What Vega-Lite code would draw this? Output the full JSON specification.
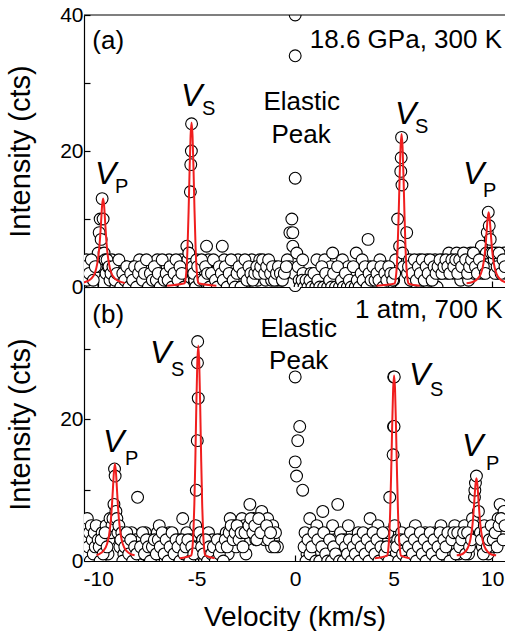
{
"$schema": "https://vega.github.io/schema/vega-lite/v6.json",
"background": "white",
"padding": {"left": 6, "top": 4, "right": 0, "bottom": 0},
"spacing": 0,
"bounds": "flush",
"config": {"view": {"stroke": null}, "font": "Liberation Sans",
  "axis": {"grid": false, "domainColor": "black", "domainWidth": 1.2, "tickColor": "black", "tickWidth": 1.2, "labelColor": "black", "titleColor": "black", "labelFont": "Liberation Sans", "titleFont": "Liberation Sans", "titleFontWeight": "normal"}},
"datasets": {
"a": [
{"x":-10.7,"y":2},{"x":-10.6,"y":4},{"x":-10.5,"y":1},{"x":-10.4,"y":3},{"x":-10.3,"y":0},{"x":-10.2,"y":2},{"x":-10.1,"y":4},{"x":-10.05,"y":3},{"x":-10.0,"y":5},{"x":-9.95,"y":8},{"x":-9.9,"y":10},{"x":-9.85,"y":7},{"x":-9.8,"y":13},{"x":-9.75,"y":10},{"x":-9.7,"y":5},{"x":-9.65,"y":4},{"x":-9.6,"y":2},{"x":-9.5,"y":3},{"x":-9.4,"y":1},{"x":-9.3,"y":4},{"x":-9.2,"y":2},{"x":-9.1,"y":0},{"x":-9.0,"y":3},{"x":-8.9,"y":1},{"x":-8.8,"y":2},{"x":-8.7,"y":0},{"x":-8.6,"y":3},{"x":-8.5,"y":1},{"x":-8.4,"y":2},{"x":-8.3,"y":0},{"x":-8.2,"y":3},{"x":-8.1,"y":1},{"x":-8.0,"y":2},{"x":-7.9,"y":4},{"x":-7.8,"y":1},{"x":-7.7,"y":0},{"x":-7.6,"y":3},{"x":-7.5,"y":2},{"x":-7.4,"y":1},{"x":-7.3,"y":3},{"x":-7.2,"y":0},{"x":-7.1,"y":2},{"x":-7.0,"y":4},{"x":-6.9,"y":1},{"x":-6.8,"y":3},{"x":-6.7,"y":2},{"x":-6.6,"y":0},{"x":-6.5,"y":3},{"x":-6.4,"y":4},{"x":-6.3,"y":1},{"x":-6.2,"y":2},{"x":-6.1,"y":3},{"x":-6.0,"y":0},{"x":-5.9,"y":2},{"x":-5.8,"y":4},{"x":-5.7,"y":1},{"x":-5.6,"y":3},{"x":-5.5,"y":6},{"x":-5.45,"y":4},{"x":-5.4,"y":5},{"x":-5.32,"y":14},{"x":-5.3,"y":18},{"x":-5.27,"y":20},{"x":-5.26,"y":24},{"x":-5.2,"y":3},{"x":-5.1,"y":1},{"x":-5.0,"y":4},{"x":-4.9,"y":2},{"x":-4.8,"y":0},{"x":-4.7,"y":3},{"x":-4.6,"y":2},{"x":-4.5,"y":6},{"x":-4.4,"y":4},{"x":-4.3,"y":1},{"x":-4.2,"y":3},{"x":-4.1,"y":0},{"x":-4.0,"y":2},{"x":-3.9,"y":3},{"x":-3.8,"y":1},{"x":-3.7,"y":6},{"x":-3.6,"y":4},{"x":-3.5,"y":2},{"x":-3.4,"y":3},{"x":-3.3,"y":0},{"x":-3.2,"y":1},{"x":-3.1,"y":3},{"x":-3.0,"y":2},{"x":-2.9,"y":4},{"x":-2.8,"y":1},{"x":-2.7,"y":3},{"x":-2.6,"y":0},{"x":-2.5,"y":2},{"x":-2.4,"y":3},{"x":-2.3,"y":1},{"x":-2.2,"y":4},{"x":-2.1,"y":2},{"x":-2.0,"y":3},{"x":-1.9,"y":1},{"x":-1.8,"y":4},{"x":-1.7,"y":2},{"x":-1.6,"y":3},{"x":-1.5,"y":1},{"x":-1.4,"y":2},{"x":-1.3,"y":3},{"x":-1.2,"y":1},{"x":-1.1,"y":2},{"x":-1.0,"y":3},{"x":-0.9,"y":1},{"x":-0.8,"y":2},{"x":-0.7,"y":1},{"x":-0.6,"y":3},{"x":-0.5,"y":2},{"x":-0.4,"y":4},{"x":-0.3,"y":3},{"x":-0.27,"y":8},{"x":-0.17,"y":10},{"x":-0.12,"y":8},{"x":-0.12,"y":6},{"x":-0.05,"y":2},{"x":0.0,"y":40},{"x":0.0,"y":34},{"x":0.0,"y":16},{"x":0.08,"y":5},{"x":0.15,"y":3},{"x":0.2,"y":1},{"x":0.3,"y":0},{"x":0.38,"y":4},{"x":0.4,"y":2},{"x":0.5,"y":0},{"x":0.6,"y":1},{"x":0.7,"y":0},{"x":0.8,"y":2},{"x":0.9,"y":0},{"x":1.0,"y":1},{"x":1.1,"y":4},{"x":1.2,"y":0},{"x":1.3,"y":2},{"x":1.4,"y":0},{"x":1.5,"y":4},{"x":1.6,"y":1},{"x":1.7,"y":0},{"x":1.8,"y":3},{"x":1.9,"y":5},{"x":2.0,"y":0},{"x":2.1,"y":1},{"x":2.2,"y":0},{"x":2.3,"y":2},{"x":2.4,"y":4},{"x":2.5,"y":0},{"x":2.6,"y":1},{"x":2.7,"y":3},{"x":2.8,"y":0},{"x":2.9,"y":2},{"x":3.0,"y":0},{"x":3.1,"y":5},{"x":3.2,"y":1},{"x":3.3,"y":0},{"x":3.4,"y":4},{"x":3.5,"y":2},{"x":3.6,"y":1},{"x":3.7,"y":7},{"x":3.8,"y":3},{"x":3.9,"y":1},{"x":4.0,"y":2},{"x":4.1,"y":3},{"x":4.2,"y":0},{"x":4.3,"y":4},{"x":4.4,"y":2},{"x":4.5,"y":1},{"x":4.6,"y":3},{"x":4.7,"y":2},{"x":4.8,"y":0},{"x":4.9,"y":3},{"x":5.0,"y":1},{"x":5.1,"y":4},{"x":5.2,"y":10},{"x":5.3,"y":6},{"x":5.36,"y":17},{"x":5.38,"y":19},{"x":5.4,"y":22},{"x":5.42,"y":15},{"x":5.45,"y":5},{"x":5.5,"y":3},{"x":5.66,"y":8},{"x":5.7,"y":2},{"x":5.8,"y":4},{"x":5.9,"y":1},{"x":6.0,"y":3},{"x":6.1,"y":2},{"x":6.2,"y":0},{"x":6.3,"y":4},{"x":6.4,"y":1},{"x":6.5,"y":3},{"x":6.6,"y":2},{"x":6.7,"y":4},{"x":6.8,"y":1},{"x":6.9,"y":3},{"x":7.0,"y":2},{"x":7.1,"y":4},{"x":7.2,"y":0},{"x":7.3,"y":3},{"x":7.4,"y":2},{"x":7.5,"y":4},{"x":7.6,"y":3},{"x":7.7,"y":2},{"x":7.8,"y":5},{"x":7.9,"y":3},{"x":8.0,"y":4},{"x":8.1,"y":2},{"x":8.2,"y":5},{"x":8.3,"y":3},{"x":8.4,"y":1},{"x":8.5,"y":4},{"x":8.6,"y":2},{"x":8.7,"y":3},{"x":8.8,"y":1},{"x":8.9,"y":5},{"x":9.0,"y":3},{"x":9.1,"y":2},{"x":9.2,"y":4},{"x":9.3,"y":3},{"x":9.4,"y":5},{"x":9.45,"y":6},{"x":9.5,"y":2},{"x":9.6,"y":4},{"x":9.7,"y":5},{"x":9.75,"y":8},{"x":9.8,"y":11},{"x":9.85,"y":9},{"x":9.9,"y":7},{"x":9.95,"y":5},{"x":10.0,"y":3},{"x":10.1,"y":4},{"x":10.2,"y":5},{"x":10.3,"y":2},{"x":10.4,"y":4},{"x":10.5,"y":3},{"x":10.6,"y":5},{"x":10.7,"y":2},
{"x":-10.65,"y":3},{"x":-10.55,"y":1},{"x":-10.45,"y":2},{"x":-10.35,"y":4},{"x":-10.25,"y":1},{"x":-10.15,"y":3},{"x":-9.55,"y":4},{"x":-9.45,"y":3},{"x":-9.35,"y":2},{"x":-9.25,"y":3},{"x":-9.15,"y":1},{"x":-9.05,"y":2},{"x":-8.95,"y":4},{"x":-8.85,"y":0},{"x":-8.75,"y":2},{"x":-8.65,"y":1},{"x":-8.55,"y":3},{"x":-8.45,"y":0},{"x":-8.35,"y":2},{"x":-8.25,"y":1},{"x":-8.15,"y":3},{"x":-8.05,"y":0},{"x":-7.95,"y":2},{"x":-7.85,"y":3},{"x":-7.75,"y":1},{"x":-7.65,"y":2},{"x":-7.55,"y":4},{"x":-7.45,"y":0},{"x":-7.35,"y":2},{"x":-7.25,"y":1},{"x":-7.15,"y":3},{"x":-7.05,"y":1},{"x":-6.95,"y":2},{"x":-6.85,"y":0},{"x":-6.75,"y":4},{"x":-6.65,"y":1},{"x":-6.55,"y":2},{"x":-6.45,"y":1},{"x":-6.35,"y":3},{"x":-6.25,"y":0},{"x":-6.15,"y":2},{"x":-6.05,"y":4},{"x":-5.95,"y":1},{"x":-5.85,"y":3},{"x":-5.75,"y":2},{"x":-5.65,"y":0},{"x":-5.15,"y":2},{"x":-5.05,"y":0},{"x":-4.95,"y":3},{"x":-4.85,"y":1},{"x":-4.75,"y":4},{"x":-4.65,"y":1},{"x":-4.55,"y":3},{"x":-4.45,"y":2},{"x":-4.35,"y":0},{"x":-4.25,"y":2},{"x":-4.15,"y":4},{"x":-4.05,"y":1},{"x":-3.95,"y":0},{"x":-3.85,"y":3},{"x":-3.75,"y":2},{"x":-3.65,"y":1},{"x":-3.55,"y":3},{"x":-3.45,"y":0},{"x":-3.35,"y":2},{"x":-3.25,"y":4},{"x":-3.15,"y":1},{"x":-3.05,"y":0},{"x":-2.95,"y":2},{"x":-2.85,"y":3},{"x":-2.75,"y":0},{"x":-2.65,"y":2},{"x":-2.55,"y":4},{"x":-2.45,"y":1},{"x":-2.35,"y":3},{"x":-2.25,"y":2},{"x":-2.15,"y":1},{"x":-2.05,"y":2},{"x":-1.95,"y":3},{"x":-1.85,"y":2},{"x":-1.75,"y":3},{"x":-1.65,"y":4},{"x":-1.55,"y":2},{"x":-1.45,"y":3},{"x":-1.35,"y":4},{"x":-1.25,"y":2},{"x":-1.15,"y":3},{"x":-1.05,"y":1},{"x":-0.95,"y":2},{"x":-0.85,"y":3},{"x":-0.75,"y":2},{"x":-0.65,"y":1},{"x":-0.55,"y":2},{"x":-0.45,"y":3},{"x":0.25,"y":0},{"x":0.35,"y":1},{"x":0.45,"y":0},{"x":0.55,"y":1},{"x":0.65,"y":0},{"x":0.75,"y":1},{"x":0.85,"y":0},{"x":0.95,"y":2},{"x":1.05,"y":0},{"x":1.15,"y":1},{"x":1.25,"y":0},{"x":1.35,"y":3},{"x":1.45,"y":0},{"x":1.55,"y":2},{"x":1.65,"y":0},{"x":1.75,"y":1},{"x":1.85,"y":0},{"x":1.95,"y":2},{"x":2.05,"y":0},{"x":2.15,"y":3},{"x":2.25,"y":0},{"x":2.35,"y":1},{"x":2.45,"y":0},{"x":2.55,"y":2},{"x":2.65,"y":0},{"x":2.75,"y":1},{"x":2.85,"y":0},{"x":2.95,"y":3},{"x":3.05,"y":0},{"x":3.15,"y":1},{"x":3.25,"y":0},{"x":3.35,"y":2},{"x":3.45,"y":1},{"x":3.55,"y":3},{"x":3.65,"y":0},{"x":3.75,"y":2},{"x":3.85,"y":1},{"x":3.95,"y":3},{"x":4.05,"y":1},{"x":4.15,"y":2},{"x":4.25,"y":1},{"x":4.35,"y":3},{"x":4.45,"y":0},{"x":4.55,"y":2},{"x":4.65,"y":1},{"x":4.75,"y":3},{"x":4.85,"y":2},{"x":4.95,"y":1},{"x":5.05,"y":2},{"x":5.75,"y":3},{"x":5.85,"y":1},{"x":5.95,"y":2},{"x":6.05,"y":4},{"x":6.15,"y":1},{"x":6.25,"y":3},{"x":6.35,"y":2},{"x":6.45,"y":4},{"x":6.55,"y":1},{"x":6.65,"y":3},{"x":6.75,"y":2},{"x":6.85,"y":4},{"x":6.95,"y":1},{"x":7.05,"y":3},{"x":7.15,"y":2},{"x":7.25,"y":3},{"x":7.35,"y":4},{"x":7.45,"y":2},{"x":7.55,"y":3},{"x":7.65,"y":4},{"x":7.75,"y":3},{"x":7.85,"y":2},{"x":7.95,"y":4},{"x":8.05,"y":3},{"x":8.15,"y":4},{"x":8.25,"y":2},{"x":8.35,"y":4},{"x":8.45,"y":3},{"x":8.55,"y":5},{"x":8.65,"y":4},{"x":8.75,"y":2},{"x":8.85,"y":3},{"x":8.95,"y":4},{"x":9.05,"y":5},{"x":9.15,"y":3},{"x":9.25,"y":2},{"x":9.35,"y":4},{"x":9.55,"y":3},{"x":9.65,"y":2},{"x":10.05,"y":5},{"x":10.15,"y":2},{"x":10.25,"y":3},{"x":10.35,"y":5},{"x":10.45,"y":2},{"x":10.55,"y":4},{"x":10.65,"y":3}
],
"b": [
{"x":-10.7,"y":3},{"x":-10.65,"y":5},{"x":-10.6,"y":1},{"x":-10.55,"y":6},{"x":-10.5,"y":2},{"x":-10.45,"y":4},{"x":-10.4,"y":0},{"x":-10.35,"y":5},{"x":-10.3,"y":3},{"x":-10.25,"y":1},{"x":-10.2,"y":4},{"x":-10.15,"y":2},{"x":-10.1,"y":5},{"x":-10.0,"y":3},{"x":-9.9,"y":0},{"x":-9.8,"y":4},{"x":-9.7,"y":2},{"x":-9.6,"y":5},{"x":-9.5,"y":1},{"x":-9.45,"y":3},{"x":-9.4,"y":6},{"x":-9.35,"y":4},{"x":-9.3,"y":5},{"x":-9.25,"y":6},{"x":-9.2,"y":8},{"x":-9.17,"y":13},{"x":-9.14,"y":12},{"x":-9.1,"y":7},{"x":-9.05,"y":6},{"x":-9.0,"y":4},{"x":-8.95,"y":5},{"x":-8.9,"y":2},{"x":-8.8,"y":4},{"x":-8.7,"y":1},{"x":-8.6,"y":3},{"x":-8.5,"y":0},{"x":-8.4,"y":2},{"x":-8.3,"y":4},{"x":-8.2,"y":1},{"x":-8.1,"y":3},{"x":-8.0,"y":9},{"x":-7.95,"y":2},{"x":-7.9,"y":0},{"x":-7.8,"y":3},{"x":-7.7,"y":1},{"x":-7.6,"y":4},{"x":-7.5,"y":2},{"x":-7.4,"y":0},{"x":-7.3,"y":3},{"x":-7.2,"y":1},{"x":-7.1,"y":2},{"x":-7.0,"y":4},{"x":-6.9,"y":5},{"x":-6.8,"y":1},{"x":-6.7,"y":3},{"x":-6.6,"y":0},{"x":-6.5,"y":2},{"x":-6.4,"y":4},{"x":-6.3,"y":1},{"x":-6.2,"y":3},{"x":-6.1,"y":2},{"x":-6.0,"y":0},{"x":-5.9,"y":3},{"x":-5.8,"y":1},{"x":-5.71,"y":6},{"x":-5.6,"y":2},{"x":-5.5,"y":4},{"x":-5.4,"y":1},{"x":-5.3,"y":3},{"x":-5.2,"y":0},{"x":-5.1,"y":2},{"x":-5.05,"y":5},{"x":-5.02,"y":10},{"x":-4.97,"y":17},{"x":-4.95,"y":31},{"x":-4.96,"y":28},{"x":-4.92,"y":23},{"x":-4.85,"y":4},{"x":-4.8,"y":1},{"x":-4.7,"y":3},{"x":-4.6,"y":0},{"x":-4.5,"y":2},{"x":-4.4,"y":4},{"x":-4.3,"y":1},{"x":-4.2,"y":3},{"x":-4.1,"y":0},{"x":-4.0,"y":2},{"x":-3.9,"y":1},{"x":-3.8,"y":3},{"x":-3.7,"y":0},{"x":-3.6,"y":2},{"x":-3.5,"y":4},{"x":-3.4,"y":1},{"x":-3.3,"y":6},{"x":-3.2,"y":3},{"x":-3.1,"y":5},{"x":-3.0,"y":2},{"x":-2.9,"y":4},{"x":-2.8,"y":4},{"x":-2.7,"y":6},{"x":-2.6,"y":5},{"x":-2.5,"y":1},{"x":-2.45,"y":3},{"x":-2.3,"y":8},{"x":-2.2,"y":4},{"x":-2.1,"y":6},{"x":-2.0,"y":3},{"x":-1.9,"y":5},{"x":-1.8,"y":4},{"x":-1.7,"y":7},{"x":-1.65,"y":5},{"x":-1.55,"y":3},{"x":-1.4,"y":6},{"x":-1.3,"y":4},{"x":-1.2,"y":2},{"x":-1.14,"y":5},{"x":-1.1,"y":3},{"x":-1.0,"y":4},{"x":-0.9,"y":2},{"x":0.0,"y":38.9},{"x":0.0,"y":26},{"x":0.23,"y":19},{"x":0.13,"y":17},{"x":0.0,"y":14},{"x":0.07,"y":12},{"x":0.38,"y":10},{"x":0.5,"y":4},{"x":0.6,"y":1},{"x":0.74,"y":6},{"x":0.8,"y":3},{"x":0.9,"y":0},{"x":1.0,"y":2},{"x":1.1,"y":5},{"x":1.2,"y":1},{"x":1.3,"y":3},{"x":1.4,"y":7},{"x":1.5,"y":0},{"x":1.6,"y":2},{"x":1.7,"y":4},{"x":1.8,"y":1},{"x":1.9,"y":5},{"x":2.0,"y":3},{"x":2.1,"y":0},{"x":2.16,"y":8},{"x":2.2,"y":2},{"x":2.3,"y":4},{"x":2.4,"y":1},{"x":2.5,"y":3},{"x":2.6,"y":0},{"x":2.7,"y":5},{"x":2.8,"y":2},{"x":2.9,"y":1},{"x":3.0,"y":3},{"x":3.1,"y":0},{"x":3.2,"y":4},{"x":3.3,"y":2},{"x":3.4,"y":1},{"x":3.5,"y":3},{"x":3.6,"y":0},{"x":3.7,"y":2},{"x":3.8,"y":6},{"x":3.9,"y":1},{"x":4.0,"y":3},{"x":4.1,"y":0},{"x":4.2,"y":5},{"x":4.3,"y":2},{"x":4.4,"y":1},{"x":4.5,"y":3},{"x":4.6,"y":0},{"x":4.7,"y":4},{"x":4.8,"y":9},{"x":4.9,"y":2},{"x":4.97,"y":15},{"x":5.0,"y":26},{"x":5.03,"y":26},{"x":4.99,"y":19},{"x":5.02,"y":19},{"x":5.05,"y":5},{"x":5.1,"y":1},{"x":5.2,"y":3},{"x":5.3,"y":0},{"x":5.4,"y":4},{"x":5.5,"y":2},{"x":5.6,"y":1},{"x":5.7,"y":3},{"x":5.8,"y":0},{"x":5.9,"y":4},{"x":6.0,"y":2},{"x":6.1,"y":5},{"x":6.2,"y":1},{"x":6.3,"y":3},{"x":6.4,"y":0},{"x":6.5,"y":2},{"x":6.6,"y":4},{"x":6.7,"y":1},{"x":6.8,"y":3},{"x":6.9,"y":0},{"x":7.0,"y":2},{"x":7.1,"y":4},{"x":7.2,"y":1},{"x":7.3,"y":3},{"x":7.4,"y":5},{"x":7.5,"y":2},{"x":7.6,"y":0},{"x":7.7,"y":3},{"x":7.8,"y":1},{"x":7.9,"y":4},{"x":8.0,"y":2},{"x":8.1,"y":5},{"x":8.2,"y":3},{"x":8.3,"y":1},{"x":8.4,"y":4},{"x":8.5,"y":2},{"x":8.6,"y":5},{"x":8.7,"y":3},{"x":8.8,"y":1},{"x":8.9,"y":4},{"x":9.0,"y":6},{"x":9.05,"y":5},{"x":9.1,"y":9},{"x":9.12,"y":10},{"x":9.15,"y":11},{"x":9.2,"y":12},{"x":9.3,"y":7},{"x":9.4,"y":4},{"x":9.5,"y":2},{"x":9.6,"y":5},{"x":9.7,"y":3},{"x":9.8,"y":1},{"x":9.9,"y":4},{"x":10.0,"y":2},{"x":10.1,"y":5},{"x":10.2,"y":3},{"x":10.3,"y":6},{"x":10.4,"y":8},{"x":10.5,"y":4},{"x":10.6,"y":7},{"x":10.7,"y":5},
{"x":-9.95,"y":2},{"x":-9.85,"y":3},{"x":-9.75,"y":1},{"x":-9.65,"y":4},{"x":-9.55,"y":2},{"x":-8.85,"y":3},{"x":-8.75,"y":0},{"x":-8.65,"y":2},{"x":-8.55,"y":4},{"x":-8.45,"y":1},{"x":-8.35,"y":3},{"x":-8.25,"y":0},{"x":-8.15,"y":2},{"x":-8.05,"y":1},{"x":-7.85,"y":2},{"x":-7.75,"y":4},{"x":-7.65,"y":1},{"x":-7.55,"y":3},{"x":-7.45,"y":2},{"x":-7.35,"y":0},{"x":-7.25,"y":2},{"x":-7.15,"y":3},{"x":-7.05,"y":1},{"x":-6.95,"y":3},{"x":-6.85,"y":2},{"x":-6.75,"y":4},{"x":-6.65,"y":1},{"x":-6.55,"y":3},{"x":-6.45,"y":0},{"x":-6.35,"y":2},{"x":-6.25,"y":4},{"x":-6.15,"y":1},{"x":-6.05,"y":3},{"x":-5.95,"y":2},{"x":-5.85,"y":0},{"x":-5.75,"y":3},{"x":-5.65,"y":1},{"x":-5.55,"y":2},{"x":-5.45,"y":3},{"x":-5.35,"y":0},{"x":-5.25,"y":2},{"x":-5.15,"y":1},{"x":-4.75,"y":2},{"x":-4.65,"y":1},{"x":-4.55,"y":3},{"x":-4.45,"y":0},{"x":-4.35,"y":2},{"x":-4.25,"y":1},{"x":-4.15,"y":2},{"x":-4.05,"y":0},{"x":-3.95,"y":3},{"x":-3.85,"y":1},{"x":-3.75,"y":2},{"x":-3.65,"y":0},{"x":-3.55,"y":3},{"x":-3.45,"y":2},{"x":-3.35,"y":4},{"x":-3.25,"y":5},{"x":-3.15,"y":3},{"x":-3.05,"y":4},{"x":-2.95,"y":5},{"x":-2.85,"y":3},{"x":-2.75,"y":4},{"x":-2.65,"y":2},{"x":-2.55,"y":4},{"x":-2.35,"y":5},{"x":-2.25,"y":6},{"x":-2.15,"y":4},{"x":-2.05,"y":5},{"x":-1.95,"y":3},{"x":-1.85,"y":6},{"x":-1.75,"y":4},{"x":-1.45,"y":5},{"x":-1.35,"y":3},{"x":-1.25,"y":4},{"x":-1.05,"y":2},{"x":0.45,"y":2},{"x":0.55,"y":0},{"x":0.65,"y":3},{"x":0.75,"y":1},{"x":0.85,"y":2},{"x":0.95,"y":4},{"x":1.05,"y":0},{"x":1.15,"y":3},{"x":1.25,"y":0},{"x":1.35,"y":2},{"x":1.45,"y":4},{"x":1.55,"y":1},{"x":1.65,"y":0},{"x":1.75,"y":3},{"x":1.85,"y":0},{"x":1.95,"y":2},{"x":2.05,"y":1},{"x":2.25,"y":0},{"x":2.35,"y":3},{"x":2.45,"y":0},{"x":2.55,"y":2},{"x":2.65,"y":1},{"x":2.75,"y":3},{"x":2.85,"y":0},{"x":2.95,"y":2},{"x":3.05,"y":1},{"x":3.15,"y":3},{"x":3.25,"y":0},{"x":3.35,"y":2},{"x":3.45,"y":4},{"x":3.55,"y":1},{"x":3.65,"y":3},{"x":3.75,"y":0},{"x":3.85,"y":2},{"x":3.95,"y":4},{"x":4.05,"y":1},{"x":4.15,"y":3},{"x":4.25,"y":0},{"x":4.35,"y":2},{"x":4.45,"y":4},{"x":4.55,"y":1},{"x":4.65,"y":2},{"x":4.75,"y":0},{"x":5.15,"y":2},{"x":5.25,"y":0},{"x":5.35,"y":3},{"x":5.45,"y":1},{"x":5.55,"y":3},{"x":5.65,"y":0},{"x":5.75,"y":2},{"x":5.85,"y":4},{"x":5.95,"y":1},{"x":6.05,"y":3},{"x":6.15,"y":0},{"x":6.25,"y":2},{"x":6.35,"y":4},{"x":6.45,"y":1},{"x":6.55,"y":3},{"x":6.65,"y":0},{"x":6.75,"y":2},{"x":6.85,"y":4},{"x":6.95,"y":1},{"x":7.05,"y":3},{"x":7.15,"y":0},{"x":7.25,"y":2},{"x":7.35,"y":4},{"x":7.45,"y":1},{"x":7.55,"y":3},{"x":7.65,"y":2},{"x":7.75,"y":4},{"x":7.85,"y":0},{"x":7.95,"y":3},{"x":8.05,"y":4},{"x":8.15,"y":1},{"x":8.25,"y":4},{"x":8.35,"y":2},{"x":8.45,"y":3},{"x":8.55,"y":4},{"x":8.65,"y":1},{"x":8.75,"y":4},{"x":8.85,"y":2},{"x":8.95,"y":3},{"x":9.45,"y":3},{"x":9.55,"y":1},{"x":9.65,"y":4},{"x":9.75,"y":2},{"x":9.85,"y":3},{"x":9.95,"y":5},{"x":10.05,"y":3},{"x":10.15,"y":4},{"x":10.25,"y":2},{"x":10.35,"y":5},{"x":10.45,"y":6},{"x":10.55,"y":3},{"x":10.65,"y":5}
],
"fa": [
{"pk":"p1","x":-10.85,"y":0.6},{"pk":"p1","x":-10.55,"y":0.85},{"pk":"p1","x":-10.35,"y":1.24},{"pk":"p1","x":-10.15,"y":2.2},{"pk":"p1","x":-10.05,"y":3.4},{"pk":"p1","x":-9.95,"y":5.6},{"pk":"p1","x":-9.9,"y":7.4},{"pk":"p1","x":-9.85,"y":9.7},{"pk":"p1","x":-9.8,"y":12.0},{"pk":"p1","x":-9.75,"y":13.0},{"pk":"p1","x":-9.7,"y":12.0},{"pk":"p1","x":-9.65,"y":9.7},{"pk":"p1","x":-9.6,"y":7.4},{"pk":"p1","x":-9.55,"y":5.6},{"pk":"p1","x":-9.45,"y":3.4},{"pk":"p1","x":-9.35,"y":2.2},{"pk":"p1","x":-9.15,"y":1.24},{"pk":"p1","x":-8.95,"y":0.85},{"pk":"p1","x":-8.65,"y":0.6},
{"pk":"s1","x":-6.5,"y":0.2},{"pk":"s1","x":-5.61,"y":0.55},{"pk":"s1","x":-5.56,"y":1.25},{"pk":"s1","x":-5.51,"y":2.9},{"pk":"s1","x":-5.46,"y":6.2},{"pk":"s1","x":-5.41,"y":11.2},{"pk":"s1","x":-5.36,"y":17.2},{"pk":"s1","x":-5.31,"y":22.2},{"pk":"s1","x":-5.26,"y":24.2},{"pk":"s1","x":-5.21,"y":22.2},{"pk":"s1","x":-5.16,"y":17.2},{"pk":"s1","x":-5.11,"y":11.2},{"pk":"s1","x":-5.06,"y":6.2},{"pk":"s1","x":-5.01,"y":2.9},{"pk":"s1","x":-4.96,"y":1.25},{"pk":"s1","x":-4.91,"y":0.55},{"pk":"s1","x":-4.0,"y":0.2},
{"pk":"s2","x":4.13,"y":0.2},{"pk":"s2","x":5.05,"y":0.5},{"pk":"s2","x":5.1,"y":1.2},{"pk":"s2","x":5.15,"y":2.7},{"pk":"s2","x":5.2,"y":5.8},{"pk":"s2","x":5.25,"y":10.4},{"pk":"s2","x":5.3,"y":16.0},{"pk":"s2","x":5.35,"y":20.6},{"pk":"s2","x":5.4,"y":22.5},{"pk":"s2","x":5.45,"y":20.6},{"pk":"s2","x":5.5,"y":16.0},{"pk":"s2","x":5.55,"y":10.4},{"pk":"s2","x":5.6,"y":5.8},{"pk":"s2","x":5.65,"y":2.7},{"pk":"s2","x":5.7,"y":1.2},{"pk":"s2","x":5.75,"y":0.5},{"pk":"s2","x":6.32,"y":0.2},
{"pk":"p2","x":8.7,"y":0.55},{"pk":"p2","x":9.02,"y":0.76},{"pk":"p2","x":9.22,"y":1.1},{"pk":"p2","x":9.42,"y":1.94},{"pk":"p2","x":9.52,"y":2.9},{"pk":"p2","x":9.62,"y":4.8},{"pk":"p2","x":9.67,"y":6.3},{"pk":"p2","x":9.72,"y":8.25},{"pk":"p2","x":9.77,"y":10.1},{"pk":"p2","x":9.82,"y":11.0},{"pk":"p2","x":9.87,"y":10.1},{"pk":"p2","x":9.92,"y":8.25},{"pk":"p2","x":9.97,"y":6.3},{"pk":"p2","x":10.02,"y":4.8},{"pk":"p2","x":10.12,"y":2.9},{"pk":"p2","x":10.22,"y":1.94},{"pk":"p2","x":10.42,"y":1.1},{"pk":"p2","x":10.62,"y":0.76},{"pk":"p2","x":10.92,"y":0.55}
],
"fb": [
{"pk":"p1","x":-10.08,"y":0.8},{"pk":"p1","x":-9.95,"y":0.97},{"pk":"p1","x":-9.75,"y":1.38},{"pk":"p1","x":-9.55,"y":2.4},{"pk":"p1","x":-9.45,"y":3.6},{"pk":"p1","x":-9.35,"y":6.0},{"pk":"p1","x":-9.3,"y":7.9},{"pk":"p1","x":-9.25,"y":10.3},{"pk":"p1","x":-9.2,"y":12.6},{"pk":"p1","x":-9.15,"y":13.7},{"pk":"p1","x":-9.1,"y":12.6},{"pk":"p1","x":-9.05,"y":10.3},{"pk":"p1","x":-9.0,"y":7.9},{"pk":"p1","x":-8.95,"y":6.0},{"pk":"p1","x":-8.85,"y":3.6},{"pk":"p1","x":-8.75,"y":2.4},{"pk":"p1","x":-8.55,"y":1.38},{"pk":"p1","x":-8.35,"y":0.97},{"pk":"p1","x":-8.15,"y":0.8},
{"pk":"s1","x":-5.86,"y":0.4},{"pk":"s1","x":-5.27,"y":0.8},{"pk":"s1","x":-5.22,"y":1.7},{"pk":"s1","x":-5.17,"y":3.8},{"pk":"s1","x":-5.12,"y":7.9},{"pk":"s1","x":-5.07,"y":14.1},{"pk":"s1","x":-5.02,"y":21.6},{"pk":"s1","x":-4.97,"y":27.9},{"pk":"s1","x":-4.92,"y":30.4},{"pk":"s1","x":-4.87,"y":27.9},{"pk":"s1","x":-4.82,"y":21.6},{"pk":"s1","x":-4.77,"y":14.1},{"pk":"s1","x":-4.72,"y":7.9},{"pk":"s1","x":-4.67,"y":3.8},{"pk":"s1","x":-4.62,"y":1.7},{"pk":"s1","x":-4.57,"y":0.8},{"pk":"s1","x":-4.09,"y":0.4},
{"pk":"s2","x":4.04,"y":0.4},{"pk":"s2","x":4.67,"y":0.76},{"pk":"s2","x":4.72,"y":1.5},{"pk":"s2","x":4.77,"y":3.3},{"pk":"s2","x":4.82,"y":6.85},{"pk":"s2","x":4.87,"y":12.2},{"pk":"s2","x":4.92,"y":18.6},{"pk":"s2","x":4.97,"y":24.1},{"pk":"s2","x":5.02,"y":26.2},{"pk":"s2","x":5.07,"y":24.1},{"pk":"s2","x":5.12,"y":18.6},{"pk":"s2","x":5.17,"y":12.2},{"pk":"s2","x":5.22,"y":6.85},{"pk":"s2","x":5.27,"y":3.3},{"pk":"s2","x":5.32,"y":1.5},{"pk":"s2","x":5.37,"y":0.76},{"pk":"s2","x":5.81,"y":0.4},
{"pk":"p2","x":8.2,"y":0.8},{"pk":"p2","x":8.4,"y":0.89},{"pk":"p2","x":8.6,"y":1.24},{"pk":"p2","x":8.8,"y":2.1},{"pk":"p2","x":8.9,"y":3.15},{"pk":"p2","x":9.0,"y":5.1},{"pk":"p2","x":9.05,"y":6.75},{"pk":"p2","x":9.1,"y":8.8},{"pk":"p2","x":9.15,"y":10.8},{"pk":"p2","x":9.2,"y":11.7},{"pk":"p2","x":9.25,"y":10.8},{"pk":"p2","x":9.3,"y":8.8},{"pk":"p2","x":9.35,"y":6.75},{"pk":"p2","x":9.4,"y":5.1},{"pk":"p2","x":9.5,"y":3.15},{"pk":"p2","x":9.6,"y":2.1},{"pk":"p2","x":9.8,"y":1.24},{"pk":"p2","x":10.0,"y":0.89},{"pk":"p2","x":10.2,"y":0.8}
],
"la": [{"x":-9.49,"y":36.2,"t":"(a)"},{"x":5.62,"y":36.3,"t":"18.6 GPa, 300 K"},{"x":0.33,"y":27.2,"t":"Elastic"},{"x":0.3,"y":22.4,"t":"Peak"}],
"lb": [{"x":-9.49,"y":34.7,"t":"(b)"},{"x":6.78,"y":35.5,"t":"1 atm, 700 K"},{"x":0.18,"y":32.7,"t":"Elastic"},{"x":0.18,"y":28.2,"t":"Peak"}],
"va": [{"x":-9.62,"y":16.6},{"x":-5.25,"y":28.1},{"x":5.61,"y":25.4},{"x":9.06,"y":16.6}],
"vb": [{"x":-9.21,"y":16.8},{"x":-6.83,"y":29.4},{"x":6.32,"y":26.3},{"x":9.01,"y":16.2}],
"sa": [{"x":-8.81,"y":14.7,"t":"P"},{"x":-4.39,"y":26.2,"t":"S"},{"x":6.42,"y":23.5,"t":"S"},{"x":9.87,"y":14.1,"t":"P"}],
"sb": [{"x":-8.30,"y":14.4,"t":"P"},{"x":-5.96,"y":27.0,"t":"S"},{"x":7.18,"y":24.2,"t":"S"},{"x":10.03,"y":13.7,"t":"P"}],
"topA": [{"x0":-10.72,"x1":10.65,"y":40}]
},
"vconcat": [
{
 "width": 421, "height": 272,
 "encoding": {
  "x": {"field": "x", "type": "quantitative", "scale": {"domain": [-10.72, 10.65], "nice": false, "zero": false}, "axis": {"orient": "bottom", "values": [-10, -5, 0, 5, 10], "labels": false, "tickSize": -6, "title": null, "minExtent": 0, "maxExtent": 0}},
  "y": {"field": "y", "type": "quantitative", "scale": {"domain": [0, 40], "nice": false, "zero": false}, "axis": {"values": [0, 10, 20, 30, 40], "labelExpr": "datum.value % 20 === 0 ? datum.label : ''", "tickSize": -6, "labelFontSize": 21, "labelPadding": 7, "title": "Intensity (cts)", "titleFontSize": 29, "titlePadding": 24}}
 },
 "layer": [
  {"data": {"name": "a"},
   "mark": {"type": "point", "shape": "circle", "size": 140, "fill": "white", "fillOpacity": 1, "stroke": "black", "strokeWidth": 1.1, "opacity": 1, "clip": true}},
  {"data": {"name": "fa"},
   "mark": {"type": "line", "color": "#f01e1e", "strokeWidth": 2, "interpolate": "monotone", "clip": true},
   "encoding": {"detail": {"field": "pk"}}},
  {"data": {"name": "topA"},
   "mark": {"type": "rule", "color": "black", "strokeWidth": 1.2},
   "encoding": {"x": {"field": "x0", "type": "quantitative"}, "x2": {"field": "x1"}}},
  {"data": {"name": "la"},
   "mark": {"type": "text", "fontSize": 26, "font": "Liberation Sans", "color": "black", "align": "center", "baseline": "middle"},
   "encoding": {"text": {"field": "t"}}},
  {"data": {"name": "va"},
   "mark": {"type": "text", "text": "V", "fontSize": 32, "fontStyle": "italic", "font": "Liberation Sans", "color": "black", "align": "center", "baseline": "middle"}},
  {"data": {"name": "sa"},
   "mark": {"type": "text", "fontSize": 20, "font": "Liberation Sans", "color": "black", "align": "center", "baseline": "middle"},
   "encoding": {"text": {"field": "t"}}}
 ]
},
{
 "width": 421, "height": 274,
 "encoding": {
  "x": {"field": "x", "type": "quantitative", "scale": {"domain": [-10.72, 10.65], "nice": false, "zero": false}, "axis": {"orient": "bottom", "values": [-10, -5, 0, 5, 10], "labelExpr": "datum.value < 0 ? '-' + abs(datum.value) : '' + datum.value", "tickSize": -6, "labelFontSize": 21, "labelPadding": 13, "title": "Velocity (km/s)", "titleFontSize": 28, "titlePadding": 14}},
  "y": {"field": "y", "type": "quantitative", "scale": {"domain": [0, 38.7], "nice": false, "zero": false}, "axis": {"values": [0, 10, 20, 30], "labelExpr": "datum.value % 20 === 0 ? datum.label : ''", "tickSize": -6, "labelFontSize": 21, "labelPadding": 7, "title": "Intensity (cts)", "titleFontSize": 29, "titlePadding": 24}}
 },
 "layer": [
  {"data": {"name": "b"},
   "mark": {"type": "point", "shape": "circle", "size": 140, "fill": "white", "fillOpacity": 1, "stroke": "black", "strokeWidth": 1.1, "opacity": 1, "clip": true}},
  {"data": {"name": "fb"},
   "mark": {"type": "line", "color": "#f01e1e", "strokeWidth": 2, "interpolate": "monotone", "clip": true},
   "encoding": {"detail": {"field": "pk"}}},
  {"data": {"name": "lb"},
   "mark": {"type": "text", "fontSize": 26, "font": "Liberation Sans", "color": "black", "align": "center", "baseline": "middle"},
   "encoding": {"text": {"field": "t"}}},
  {"data": {"name": "vb"},
   "mark": {"type": "text", "text": "V", "fontSize": 32, "fontStyle": "italic", "font": "Liberation Sans", "color": "black", "align": "center", "baseline": "middle"}},
  {"data": {"name": "sb"},
   "mark": {"type": "text", "fontSize": 20, "font": "Liberation Sans", "color": "black", "align": "center", "baseline": "middle"},
   "encoding": {"text": {"field": "t"}}}
 ]
}
]
}
